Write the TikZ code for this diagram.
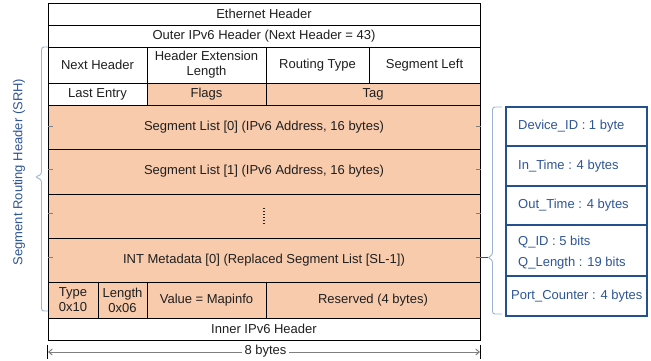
\documentclass[tikz,border=0pt]{standalone}
\usepackage{fontspec}
\setmainfont{Liberation Sans}
\usetikzlibrary{arrows.meta}
\definecolor{peach}{HTML}{F8CBAD}
\definecolor{navytext}{HTML}{2F5597}
\definecolor{navyline}{HTML}{24508F}
\definecolor{bracec}{HTML}{9DB3D3}
\definecolor{tickc}{HTML}{7F7F7F}
\newcommand\mycell[7]{\node[cellst, fill=#6, minimum width={#4-#2}, minimum height={#5-#3}] (#1) at ({(#2+#4)/2},{(#3+#5)/2}) {#7};}
\newcommand\infocell[3]{\node[infost, minimum height={#3-#2}] (#1) at (576.5,{(#2+#3)/2}) {};}
\begin{document}
\begin{tikzpicture}[x=1pt,y=-1pt,
  cellst/.style={draw=black, line width=1pt, inner sep=0pt, align=center,
    font=\fontsize{13}{15}\selectfont, text=black!88},
  infost/.style={draw=navyline, line width=1.1pt, fill=white, inner sep=0pt, minimum width=141},
  infotext/.style={anchor=west, inner sep=0pt, text=navytext, font=\fontsize{13}{15}\selectfont},
  bracest/.style={draw=bracec, line width=0.9pt, rounded corners=2.5pt},
  tickst/.style={draw=tickc, line width=0.8pt},
]
\useasboundingbox (0,0) rectangle (651,360);

% main table
\mycell{eth}{48}{3}{480}{25}{white}{Ethernet Header}
\mycell{outer}{48}{25}{480}{47}{white}{Outer IPv6 Header (Next Header = 43)}
\mycell{nh}{48}{47}{147}{83}{white}{Next Header}
\mycell{hel}{147}{47}{266}{83}{white}{Header Extension\\Length}
\mycell{rt}{266}{47}{369}{83}{white}{Routing Type}
\mycell{sl}{369}{47}{480}{83}{white}{Segment Left}
\mycell{le}{48}{83}{147}{105}{white}{Last Entry}
\mycell{fl}{147}{83}{266}{105}{peach}{Flags}
\mycell{tag}{266}{83}{480}{105}{peach}{Tag}
\mycell{s0}{48}{105}{480}{149}{peach}{Segment List [0] (IPv6 Address, 16 bytes)}
\mycell{s1}{48}{149}{480}{194}{peach}{Segment List [1] (IPv6 Address, 16 bytes)}
\mycell{sd}{48}{194}{480}{238}{peach}{}
\mycell{int}{48}{238}{480}{282}{peach}{INT Metadata [0] (Replaced Segment List [SL-1])}
\mycell{ty}{48}{282}{98}{318}{peach}{Type\\0x10}
\mycell{ln}{98}{282}{147}{318}{peach}{Length\\0x06}
\mycell{val}{147}{282}{266}{318}{peach}{Value = Mapinfo}
\mycell{res}{266}{282}{480}{318}{peach}{Reserved (4 bytes)}
\mycell{inner}{48}{318}{480}{340}{white}{Inner IPv6 Header}

% vertical dots
\draw[black!85, line width=1.6pt, dash pattern=on 1.2pt off 1.8pt]
  ([yshift=8]sd.center) -- ([yshift=-8]sd.center);

% small ticks
\foreach \n/\s in {s0/1, s1/2, sd/3, int/3}{
  \draw[tickst] ([yshift=\s]\n.west) -- ([xshift=5,yshift=\s]\n.west);
  \draw[tickst] ([yshift=\s]\n.east) -- ([xshift=-5,yshift=\s]\n.east);
}

% left brace and label
\draw[bracest] (48,47) -- (41.5,47) -- (41.5,174.5) -- (35,177) -- (41.5,179.5) -- (41.5,311) -- (48,311);
\node[rotate=90, text=navytext, font=\fontsize{13}{15}\selectfont, inner sep=0pt] (srh) at (19,172) {Segment Routing Header (SRH)};

% right info box
\infocell{d1}{107}{146}
\infocell{d2}{146}{186}
\infocell{d3}{186}{225}
\infocell{d4}{225}{276}
\infocell{d5}{276}{316}
\node[infotext] (t1) at (518,126.5) {Device\_ID : 1 byte};
\node[infotext] (t2) at (518,166) {In\_Time : 4 bytes};
\node[infotext] (t3) at (518,205.5) {Out\_Time : 4 bytes};
\node[infotext] (t4a) at (518,242) {Q\_ID : 5 bits};
\node[infotext] (t4b) at (518,263) {Q\_Length : 19 bits};
\node[infotext] (t5) at (511,296) {Port\_Counter : 4 bytes};

% right brace
\draw[bracest] (502,107) -- (492.5,107) -- (492.5,255) -- (487.5,257.5) -- (492.5,260) -- (492.5,314) -- (502,314);
\coordinate (rtip) at (487.5,257.5);
\draw[navyline, line width=0.8pt] ([yshift=2.5]int.east) -- (rtip);

% 8 bytes dimension
\coordinate (aL) at (48,352);
\coordinate (aR) at (480,352);
\draw[black, line width=0.8pt] ([yshift=-4]inner.south west) -- ([yshift=-18]inner.south west);
\draw[black, line width=0.8pt] ([yshift=-4]inner.south east) -- ([yshift=-18]inner.south east);
\draw[tickc, line width=1pt, {Straight Barb[length=3.5pt,width=6pt]}-{Straight Barb[length=3.5pt,width=6pt]}] (aL) -- (aR);
\node[fill=white, inner sep=3pt, font=\fontsize{13}{15}\selectfont, text=black!88] (bytes) at (265.5,351.5) {8 bytes};
\end{tikzpicture}
\end{document}
